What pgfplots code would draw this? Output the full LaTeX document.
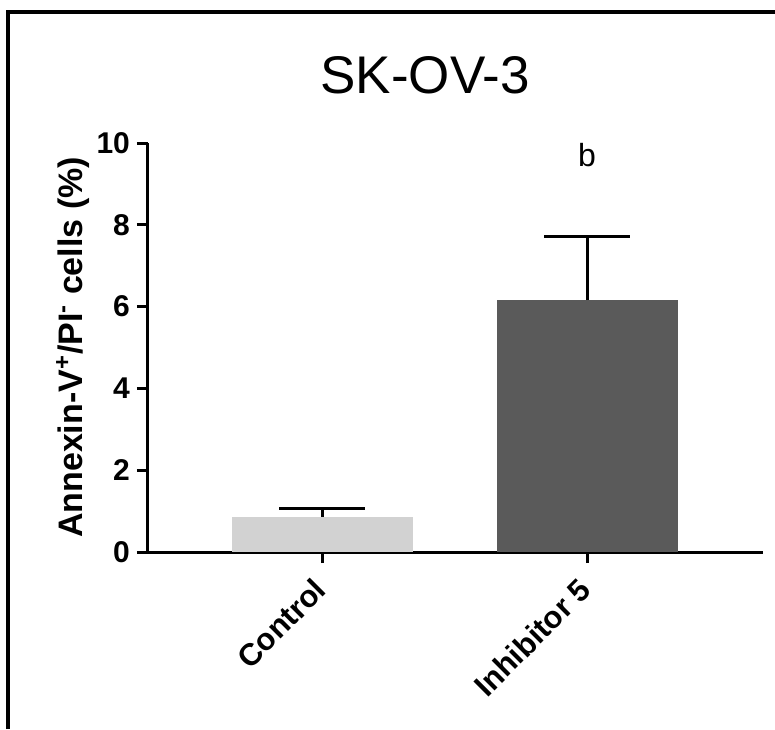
\documentclass[border=0pt]{standalone}
\usepackage{fontspec}
\setmainfont{Liberation Sans}
\usepackage{pgfplots}
\pgfplotsset{compat=1.18}
\definecolor{ctrlgray}{HTML}{D2D2D2}
\definecolor{inhgray}{HTML}{5A5A5A}
\begin{document}
\begin{tikzpicture}
\useasboundingbox (-74pt,-88.5pt) rectangle (313.5pt,276pt);
\begin{axis}[
    at={(0,0)}, anchor=south west,
    scale only axis, width=307.5pt, height=204.5pt,
    xmin=-0.657, xmax=1.664, ymin=0, ymax=10,
    axis x line*=bottom, axis y line*=left,
    axis line style={line width=1.5pt},
    ytick={0,2,...,10},
    xtick={0,1}, xticklabels={Control, Inhibitor 5},
    tick style={line width=1.5pt, black},
    tick align=outside, major tick length=5.5pt,
    /pgf/number format/assume math mode=true,
    yticklabel style={font=\fontsize{15}{17}\selectfont\bfseries},
    xticklabel style={rotate=45, anchor=north east, inner sep=1pt, xshift=-7pt, yshift=0pt,
        font=\fontsize{15.5}{17}\selectfont\bfseries},
    ylabel={Annexin-V\textsuperscript{+}/PI\textsuperscript{-} cells (\%)},
    ylabel style={font=\fontsize{17}{19}\selectfont\bfseries, at={(axis description cs:-0.122,0.5)}, anchor=center},
    clip=false,
]
\addplot[ybar, bar width=90.5pt, bar shift=0pt, fill=ctrlgray, draw=none,
    error bars/.cd, y dir=plus, y explicit,
    error bar style={draw=black, line width=1.5pt},
    error mark options={draw=black, line width=1.5pt, mark size=21.5pt, rotate=90}]
    coordinates {(0,0.86) +- (0,0.21)};
\addplot[ybar, bar width=90.5pt, bar shift=0pt, fill=inhgray, draw=none,
    error bars/.cd, y dir=plus, y explicit,
    error bar style={draw=black, line width=1.5pt},
    error mark options={draw=black, line width=1.5pt, mark size=21.5pt, rotate=90}]
    coordinates {(1,6.16) +- (0,1.55)};
\node[font=\fontsize{16}{18}\selectfont] at (axis cs:1,9.7) {b};
\end{axis}
\node[font=\fontsize{26.5}{30}\selectfont] at (138.5pt,238.5pt) {SK-OV-3};
\draw[line width=2pt] (-70pt,-88.5pt) -- (-70pt,270pt) -- (313.5pt,270pt);
\end{tikzpicture}
\end{document}
